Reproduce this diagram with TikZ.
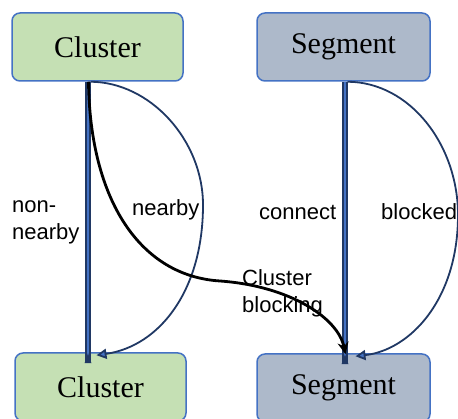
\documentclass[tikz,border=0pt]{standalone}
\usepackage{fontspec}
\setmainfont{Liberation Serif}
\newfontfamily\lblfont{Liberation Sans}
\usetikzlibrary{arrows.meta}
\definecolor{boxgreen}{HTML}{C5E0B4}
\definecolor{boxslate}{HTML}{ADB9CA}
\definecolor{boxblue}{HTML}{4472C4}
\definecolor{navy}{HTML}{203864}
\tikzset{
  box/.style={rounded corners=8pt, draw=boxblue, line width=1.5pt, minimum height=68pt, inner sep=0pt, font=\fontsize{30}{34}\selectfont},
  lbl/.style={font=\lblfont\fontsize{22}{27}\selectfont, inner sep=0pt, align=left, text=black},
  arcline/.style={navy, line width=1.8pt, -{Triangle[length=10pt,width=10pt,fill=boxblue]}},
  shaft/.style={navy, line width=5.5pt},
  shaftcore/.style={boxblue, line width=2.5pt},
  blk/.style={black, line width=2.8pt, -{Stealth[length=12pt,width=11pt]}}
}
\begin{document}
\begin{tikzpicture}[x=1pt,y=-1pt]
\clip (0,0) rectangle (458,419);
\node[box, fill=boxgreen, minimum width=171pt] (c1) at (97.5,47) {Cluster};
\node[box, fill=boxslate, minimum width=173pt] (s1) at (343.5,47) {Segment};
\node[box, fill=boxgreen, minimum width=171pt] (c2) at (100.5,387) {Cluster};
\node[box, fill=boxslate, minimum width=173pt] (s2) at (343.5,388) {Segment};
% vertical double arrows
\coordinate (c1a) at ([xshift=-9.5pt]c1.south);
\coordinate (c2a) at ([xshift=-12.5pt]c2.north);
\coordinate (s1a) at ([xshift=1.5pt]s1.south);
\coordinate (s2a) at ([xshift=1.5pt]s2.north);
\draw[shaft] (c1a) -- ([yshift=-9pt]c2a);
\draw[shaftcore] (c1a) -- ([yshift=-9pt]c2a);
\fill[navy] ([yshift=-1pt]c2a) -- ([xshift=-3.5pt,yshift=-11pt]c2a) -- ([xshift=3.5pt,yshift=-11pt]c2a) -- cycle;
\draw[shaft] (s1a) -- ([yshift=-9pt]s2a);
\draw[shaftcore] (s1a) -- ([yshift=-9pt]s2a);
\fill[navy] ([yshift=-1pt]s2a) -- ([xshift=-3.5pt,yshift=-11pt]s2a) -- ([xshift=3.5pt,yshift=-11pt]s2a) -- cycle;
% arcs
\draw[arcline] ([xshift=-7pt]c1.south) .. controls (150,82) and (203,140) .. (203,205) .. controls (203,290) and (160,346) .. ([xshift=-4pt,yshift=-3pt]c2.north);
\draw[arcline] ([xshift=4pt]s1.south) .. controls (410,82) and (458,145) .. (458,215) .. controls (458,300) and (410,350) .. ([xshift=12pt,yshift=-3pt]s2.north);
% black curve
\draw[blk] ([xshift=-9pt]c1.south) .. controls (90,200) and (140,276) .. (220,281) .. controls (290,286) and (338,318) .. ([xshift=2pt,yshift=-1pt]s2.north);
% labels
\node[lbl, anchor=west] (l1) at (12,222) {non-\\nearby};
\node[lbl, anchor=west] (l2) at (132,210) {nearby};
\node[lbl, anchor=west] (l3) at (259,212) {connect};
\node[lbl, anchor=west] (l4) at (381,212) {blocked};
\node[lbl, anchor=west] (l5) at (242,293) {Cluster\\blocking};
\end{tikzpicture}
\end{document}
